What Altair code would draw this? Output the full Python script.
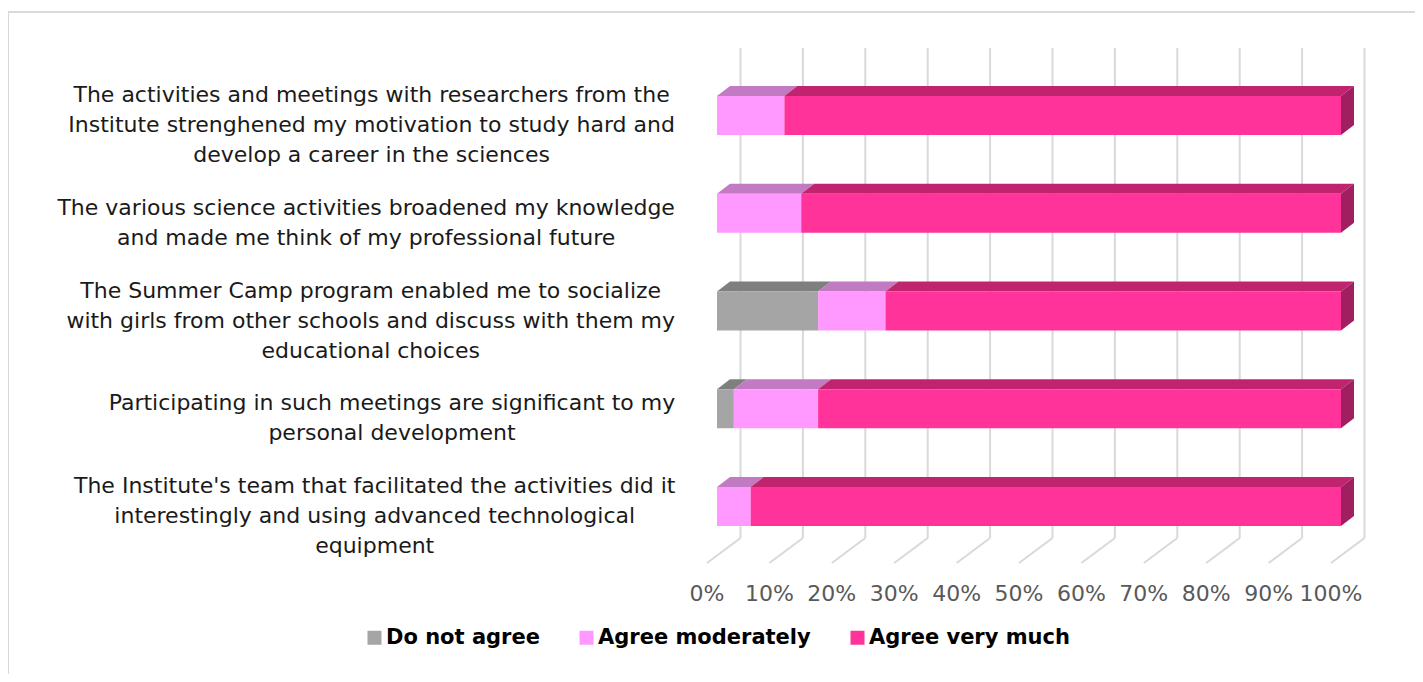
import altair as alt
import pandas as pd

# ---------------- data ----------------
categories = [
    "The activities and meetings with researchers from the\nInstitute strenghened my motivation to study hard and\ndevelop a career in the sciences",
    "The various science activities broadened my knowledge\nand made me think of my professional future",
    "The Summer Camp program enabled me to socialize\nwith girls from other schools and discuss with them my\neducational choices",
    "Participating in such meetings are significant to my\npersonal development",
    "The Institute's team that facilitated the activities did it\ninterestingly and using advanced technological\nequipment",
]
do_not_agree = [0.0, 0.0, 16.2, 2.7, 0.0]
agree_moderately = [10.8, 13.5, 10.8, 13.5, 5.4]
agree_very_much = [89.2, 86.5, 73.0, 83.8, 94.6]
series_names = ["Do not agree", "Agree moderately", "Agree very much"]
tick_values = [0, 10, 20, 30, 40, 50, 60, 70, 80, 90, 100]
tick_labels = ["0%", "10%", "20%", "30%", "40%", "50%", "60%", "70%", "80%", "90%", "100%"]

# ---------------- styles / geometry ----------------
front_colors = ["#A5A5A5", "#FF99FF", "#FF3399"]
top_colors = ["#7F7F7F", "#C27AC2", "#C0246F"]
side_color = "#A01F60"
grid_color = "#D9D9D9"
FONT = "DejaVu Sans"
LABEL_SIZE = 22

W, H = 1407, 662
PX_X = 6.24          # pixels per percent
PX_Y = 97.75         # pixels per category row
x_zero_px = 709
y_row0_px = 103.5
x_domain = [-x_zero_px / PX_X, (W - x_zero_px) / PX_X]
y_domain = [-y_row0_px / PX_Y, (H - y_row0_px) / PX_Y]
half = 19.5 / PX_Y
dx = 13 / PX_X
dy = 10 / PX_Y
wall_dx = 23.5 / PX_X
floor_dx = 10 / PX_X
wall_top = (48 - 115.5) / PX_Y
wall_bottom = (538 - 115.5) / PX_Y
floor_front = (563 - 115.5) / PX_Y
tick_label_y = (594 - 115.5) / PX_Y
label_dy = 9.5 / PX_Y
label_right = (686 - 717) / PX_X
LINE_H = 30
WIDTH_SCALE = 1.035

# approximate DejaVu Sans advance widths (fraction of em) to centre the wrapped labels
_w = dict(a=.613, b=.635, c=.550, d=.635, e=.615, f=.352, g=.635, h=.634, i=.278, j=.278,
          k=.579, l=.278, m=.974, n=.634, o=.612, p=.635, q=.635, r=.411, s=.521, t=.392,
          u=.634, v=.592, w=.818, x=.592, y=.592, z=.525, T=.611, I=.295, S=.635, C=.698,
          P=.603)
_w[" "] = .318
_w["'"] = .275


def text_width(line):
    return sum(_w.get(ch, .65) for ch in line) * LABEL_SIZE


# ---------------- derived tables ----------------
series_vals = [do_not_agree, agree_moderately, agree_very_much]
front_rows, top_rows, side_rows, label_rows = [], [], [], []
for i, cat in enumerate(categories):
    start = 0.0
    for s, name in enumerate(series_names):
        v = series_vals[s][i]
        if v <= 0:
            continue
        seg = f"{i}-{s}"
        front_rows.append(dict(series=name, x0=start, x1=start + v,
                               y0=i - half, y1=i + half))
        top_rows.append(dict(seg=seg, tc=top_colors[s], y=i - half, xa=start, xb=start + v))
        top_rows.append(dict(seg=seg, tc=top_colors[s], y=i - half - dy, xa=start + dx, xb=start + v + dx))
        start += v
    side_rows.append(dict(seg=str(i), x=start, ya=i - half, yb=i + half))
    side_rows.append(dict(seg=str(i), x=start + dx, ya=i - half - dy, yb=i + half - dy))
    lines = cat.split("\n")
    widest = max(text_width(line) for line in lines)
    label_rows.append(dict(text=cat,
                           x=label_right - widest * WIDTH_SCALE / 2 / PX_X,
                           y=i + label_dy - (len(lines) - 1) * LINE_H / 2 / PX_Y))

front_df = pd.DataFrame(front_rows)
top_df = pd.DataFrame(top_rows)
side_df = pd.DataFrame(side_rows)
label_df = pd.DataFrame(label_rows)
grid_df = pd.DataFrame(dict(
    t=tick_values,
    label=tick_labels,
    wx=[v + wall_dx for v in tick_values],
    fx=[v - floor_dx for v in tick_values],
    wt=[wall_top] * len(tick_values),
    wb=[wall_bottom] * len(tick_values),
    ff=[floor_front] * len(tick_values),
    ly=[tick_label_y] * len(tick_values),
))

xs = alt.Scale(domain=x_domain, nice=False, zero=False)
ys = alt.Scale(domain=y_domain, nice=False, zero=False, reverse=True)
X = lambda f: alt.X(f, type="quantitative", scale=xs, axis=None)
Y = lambda f: alt.Y(f, type="quantitative", scale=ys, axis=None)

wall = alt.Chart(grid_df).mark_rule(color=grid_color, strokeWidth=2).encode(
    x=X("wx"), y=Y("wt"), y2="wb")
floor = alt.Chart(grid_df).mark_rule(color=grid_color, strokeWidth=2).encode(
    x=X("fx"), x2="wx", y=Y("ff"), y2="wb")
ticks = alt.Chart(grid_df).mark_text(font=FONT, fontSize=22, color="#595959",
                                     align="center", baseline="middle").encode(
    x=X("fx"), y=Y("ly"), text="label:N")

tops = alt.Chart(top_df).mark_area(orient="horizontal", interpolate="linear").encode(
    y=Y("y"), x=X("xa"), x2="xb", detail="seg:N", color=alt.Color("tc:N", scale=None))
sides = alt.Chart(side_df).mark_area(orient="vertical", interpolate="linear", color=side_color).encode(
    x=X("x"), y=Y("ya"), y2="yb", detail="seg:N")
fronts = alt.Chart(front_df).mark_rect().encode(
    x=X("x0"), x2="x1", y=Y("y0"), y2="y1",
    color=alt.Color("series:N",
                    scale=alt.Scale(domain=series_names, range=front_colors),
                    legend=alt.Legend(orient="none", legendX=356, legendY=615,
                                      direction="horizontal", title=None,
                                      symbolType="square", symbolSize=196,
                                      symbolStrokeWidth=0, symbolOpacity=1,
                                      labelFont=FONT, labelFontSize=21,
                                      labelFontWeight="bold", labelColor="#000000",
                                      labelLimit=400,
                                      labelOffset=1, columnPadding=36)))

labels = alt.Chart(label_df).mark_text(font=FONT, fontSize=LABEL_SIZE, color="#1A1A1A",
                                       align="center", baseline="middle",
                                       lineBreak="\n", lineHeight=LINE_H).encode(
    x=X("x"), y=Y("y"), text="text:N")

frame_left = alt.Chart(grid_df).mark_rule(color=grid_color, strokeWidth=2).encode(
    x=alt.value(0), y=alt.value(0), y2=alt.value(H))
frame_top = alt.Chart(grid_df).mark_rule(color=grid_color, strokeWidth=2).encode(
    x=alt.value(0), x2=alt.value(W), y=alt.value(0))

chart = alt.layer(frame_left, frame_top, wall, floor, ticks, tops, sides, fronts, labels).properties(
    width=W, height=H,
    autosize=alt.AutoSizeParams(type="none"),
    padding={"left": 0, "top": 4, "right": 0, "bottom": 0},
).configure_view(stroke=None)

chart.save("out.html", embed_options={"renderer": "svg", "actions": False})
